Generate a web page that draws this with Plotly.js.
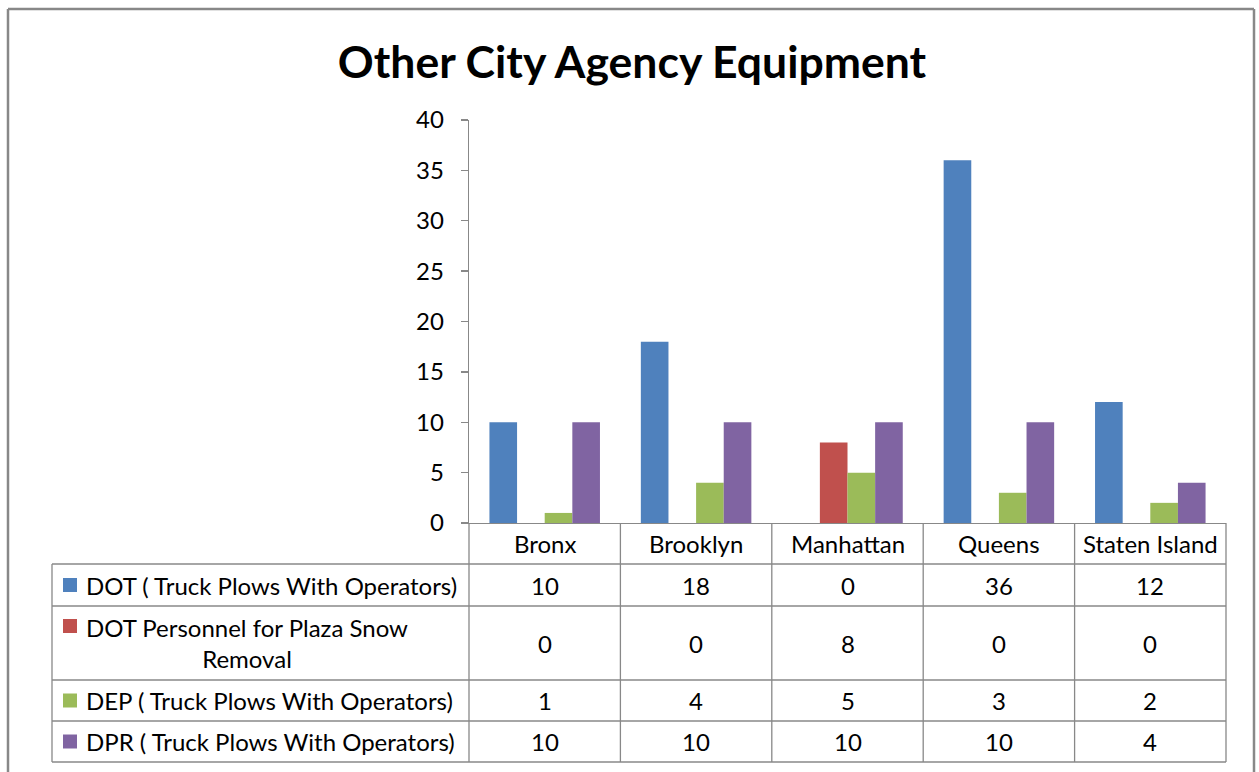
<!DOCTYPE html>
<html>
<head>
<meta charset="utf-8">
<script src="https://cdn.plot.ly/plotly-3.0.1.min.js"></script>
<style>html,body{margin:0;padding:0;background:#fff;}#chart{width:1259px;height:772px;}</style>
</head>
<body>
<div id="chart"></div>
<script>
const boroughs = ["Bronx", "Brooklyn", "Manhattan", "Queens", "Staten Island"];
const seriesNames = [
  "DOT ( Truck Plows With Operators)",
  "DOT Personnel for Plaza Snow<br>Removal",
  "DEP ( Truck Plows With Operators)",
  "DPR ( Truck Plows With Operators)"
];
const dotTruckPlows = [10, 18, 0, 36, 12];
const dotPlazaPersonnel = [0, 0, 8, 0, 0];
const depTruckPlows = [1, 4, 5, 3, 2];
const dprTruckPlows = [10, 10, 10, 10, 4];
const yTicks = [0, 5, 10, 15, 20, 25, 30, 35, 40];

const seriesValues = [dotTruckPlows, dotPlazaPersonnel, depTruckPlows, dprTruckPlows];
const colors = ["#4F81BD", "#C0504D", "#9BBB59", "#8064A2"];

const W = 1259, H = 772;
const px = x => x / W;
const py = y => 1 - y / H;
const FONT = "Lato, 'Open Sans', sans-serif";
const GRID = "#888888";
const TXT = 24, NUM = 24;

const traces = seriesValues.map((vals, i) => ({
  type: "bar",
  name: seriesNames[i].replace("<br>", " "),
  x: boroughs,
  y: vals,
  marker: {color: colors[i]},
  hoverinfo: "x+y"
}));

// table geometry (pixels)
const plotL = 469, plotR = 1226, plotT = 120, plotB = 523;
const tableL = 52;
const rowEdges = [523, 564, 606, 680, 721, 762];
const colW = (plotR - plotL) / boroughs.length;

const shapes = [];
const line = (x0, y0, x1, y1, color, w) => shapes.push({
  type: "line", xref: "paper", yref: "paper",
  x0: px(x0), y0: py(y0), x1: px(x1), y1: py(y1),
  line: {color: color || GRID, width: w || 1.3}
});

// outer chart border
line(8, 9, 1254, 9, "#888888", 2.5);
line(8, 9, 8, 790, "#888888", 2.5);
line(1254, 9, 1254, 790, "#888888", 2.5);

// table horizontal lines
for (let r = 1; r < rowEdges.length; r++) line(tableL, rowEdges[r], plotR, rowEdges[r]);
// table vertical lines
line(tableL, rowEdges[1], tableL, rowEdges[rowEdges.length - 1]);
for (let c = 0; c <= boroughs.length; c++) {
  const x = plotL + c * colW;
  line(x, plotB, x, rowEdges[rowEdges.length - 1]);
}

const annotations = [];
// header labels
boroughs.forEach(b => annotations.push({
  xref: "x", yref: "paper", x: b, y: py((rowEdges[0] + rowEdges[1]) / 2),
  text: b, showarrow: false, xanchor: "center", yanchor: "middle",
  font: {family: FONT, size: TXT, color: "#000"}
}));

// data rows
seriesValues.forEach((vals, i) => {
  const top = rowEdges[i + 1], bot = rowEdges[i + 2];
  const cy = (top + bot) / 2;
  vals.forEach((v, j) => annotations.push({
    xref: "x", yref: "paper", x: boroughs[j], y: py(cy),
    text: String(v), showarrow: false, xanchor: "center", yanchor: "middle",
    font: {family: FONT, size: NUM, color: "#000"}
  }));
  const multi = seriesNames[i].indexOf("<br>") >= 0;
  annotations.push({
    xref: "paper", yref: "paper",
    x: multi ? px(247) : px(84), y: py(cy),
    text: seriesNames[i], showarrow: false,
    xanchor: multi ? "center" : "left", yanchor: "middle", align: "center",
    font: {family: FONT, size: TXT, color: "#000"}
  });
  // legend key
  const keyCy = multi ? top + 20 : cy;
  shapes.push({
    type: "rect", xref: "paper", yref: "paper",
    x0: px(63), x1: px(77), y0: py(keyCy - 7), y1: py(keyCy + 7),
    fillcolor: colors[i], line: {width: 0}
  });
});

const layout = {
  width: W, height: H,
  margin: {l: 0, r: 0, t: 0, b: 0},
  paper_bgcolor: "#fff", plot_bgcolor: "#fff",
  showlegend: false,
  barmode: "group",
  bargap: 0.27,
  bargroupgap: 0,
  title: {
    text: "<b>Other City Agency Equipment</b>",
    x: px(632), xanchor: "center", y: py(62), yanchor: "middle",
    font: {family: FONT, size: 44.5, color: "#000"}
  },
  xaxis: {
    domain: [px(plotL), px(plotR)],
    showticklabels: false, ticks: "",
    showline: true, linecolor: GRID, linewidth: 1.3,
    showgrid: false, zeroline: false, fixedrange: true
  },
  yaxis: {
    domain: [py(plotB), py(plotT)],
    range: [0, 40], tickvals: yTicks, ticktext: yTicks.map(String),
    ticks: "outside", ticklen: 7, tickcolor: GRID, tickwidth: 1.3,
    ticklabelstandoff: 12,
    showline: true, linecolor: GRID, linewidth: 1.3,
    showgrid: false, zeroline: false, fixedrange: true,
    tickfont: {family: FONT, size: NUM, color: "#000"}
  },
  shapes: shapes,
  annotations: annotations
};

Plotly.newPlot("chart", traces, layout, {displayModeBar: false, staticPlot: true});
</script>
</body>
</html>
